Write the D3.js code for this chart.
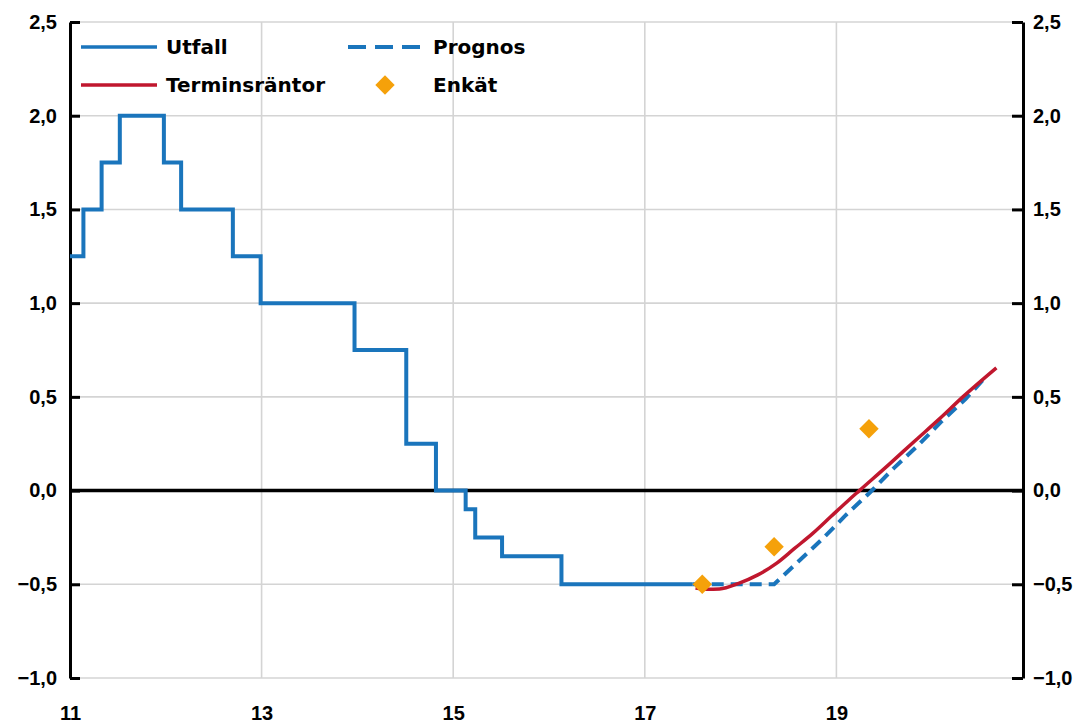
<!DOCTYPE html>
<html>
<head>
<meta charset="utf-8">
<script src="https://cdn.jsdelivr.net/npm/d3@7"></script>
<style>
  body { margin: 0; background: #fff; }
  svg { display: block; font-family: "DejaVu Sans", sans-serif; font-weight: 700; }
  .tick text { font-size: 20px; fill: #000; }
</style>
</head>
<body>
<svg id="chart"></svg>
<script>
// reporänta, utfall (step changes)
const utfallDates  = [2011.0, 2011.14, 2011.33, 2011.52, 2011.98, 2012.16, 2012.70, 2012.99, 2013.97, 2014.51, 2014.82, 2015.13, 2015.23, 2015.51, 2016.13, 2017.50]
const utfallValues = [1.25, 1.50, 1.75, 2.00, 1.75, 1.50, 1.25, 1.00, 0.75, 0.25, 0.00, -0.10, -0.25, -0.35, -0.50, -0.50]

// prognos
const prognosDates  = [2017.50, 2017.75, 2018.00, 2018.35, 2018.60, 2018.85, 2019.10, 2019.35, 2019.60, 2019.85, 2020.10, 2020.35, 2020.53]
const prognosValues = [-0.50, -0.50, -0.50, -0.50, -0.38, -0.26, -0.13, -0.01, 0.12, 0.24, 0.37, 0.49, 0.59]

// terminsräntor
const terminDates  = [2017.53, 2017.65, 2017.78, 2017.98, 2018.18, 2018.37, 2018.56, 2018.75, 2018.94, 2019.13, 2019.24, 2019.55, 2019.83, 2020.07, 2020.32, 2020.67]
const terminValues = [-0.52, -0.527, -0.525, -0.495, -0.45, -0.39, -0.31, -0.23, -0.14, -0.05, 0.00, 0.14, 0.27, 0.38, 0.50, 0.655]

// enkät
const enkatDates  = [2017.60, 2018.35, 2019.34]
const enkatValues = [-0.50, -0.30, 0.33]

const yTicks = [-1.0, -0.5, 0.0, 0.5, 1.0, 1.5, 2.0, 2.5]
const xTicks = [2011, 2013, 2015, 2017, 2019]
const xGrid  = [2013, 2015, 2017, 2019]

const blue = "#1a75bc"
const red = "#c0172e"
const orange = "#f5a10a"

const width = 1082
const height = 725
const plotLeft = 70, plotRight = 1023, plotTop = 22, plotBottom = 678

const svg = d3.select("#chart").attr("width", width).attr("height", height)

const x = d3.scaleLinear().domain([2011, 2021]).range([plotLeft, plotRight + 5])
const y = d3.scaleLinear().domain([-1, 2.5]).range([plotBottom, plotTop])
const fmt = d => d3.format(".1f")(d).replace(".", ",")

// gridlines
svg.append("g").selectAll("line").data(yTicks).join("line")
    .attr("x1", plotLeft).attr("x2", plotRight)
    .attr("y1", d => y(d)).attr("y2", d => y(d))
    .attr("stroke", "#d4d4d4").attr("stroke-width", 1.6)
svg.append("g").selectAll("line").data(xGrid).join("line")
    .attr("x1", d => x(d)).attr("x2", d => x(d))
    .attr("y1", plotTop).attr("y2", plotBottom)
    .attr("stroke", "#d4d4d4").attr("stroke-width", 1.6)

// zero line
svg.append("line")
    .attr("x1", plotLeft).attr("x2", plotRight)
    .attr("y1", y(0)).attr("y2", y(0))
    .attr("stroke", "#000").attr("stroke-width", 3.5)

// axes
const yLeft = svg.append("g").attr("transform", `translate(${plotLeft},0)`)
    .call(d3.axisLeft(y).tickValues(yTicks).tickFormat(fmt).tickSizeInner(-10).tickSizeOuter(0).tickPadding(13))
const yRight = svg.append("g").attr("transform", `translate(${plotRight},0)`)
    .call(d3.axisRight(y).tickValues(yTicks).tickFormat(fmt).tickSizeInner(-11).tickSizeOuter(0).tickPadding(10))
for (const g of [yLeft, yRight]) {
    g.select(".domain").attr("stroke", "#000").attr("stroke-width", 3)
    g.selectAll(".tick line").attr("stroke", "#000").attr("stroke-width", 3)
}

svg.append("g").attr("transform", `translate(0,${plotBottom})`)
    .call(d3.axisBottom(x).tickValues(xTicks).tickFormat(d => String(d % 100)).tickSize(0).tickPadding(28))
    .call(g => g.select(".domain").remove())

// series
const line = d3.line().x(d => x(d[0])).y(d => y(d[1]))

svg.append("path")
    .datum(d3.zip(utfallDates, utfallValues))
    .attr("d", line.curve(d3.curveStepAfter))
    .attr("fill", "none").attr("stroke", blue).attr("stroke-width", 4)

svg.append("path")
    .datum(d3.zip(prognosDates, prognosValues))
    .attr("d", line.curve(d3.curveLinear))
    .attr("fill", "none").attr("stroke", blue).attr("stroke-width", 4)
    .attr("stroke-dasharray", "12,7")

svg.append("path")
    .datum(d3.zip(terminDates, terminValues))
    .attr("d", line.curve(d3.curveMonotoneX))
    .attr("fill", "none").attr("stroke", red).attr("stroke-width", 3.5)

const diamond = d3.symbol().type(d3.symbolDiamond2).size(240)
svg.append("g").selectAll("path")
    .data(d3.zip(enkatDates, enkatValues)).join("path")
    .attr("transform", d => `translate(${x(d[0])},${y(d[1])})`)
    .attr("d", diamond)
    .attr("fill", orange)

// legend
const legend = svg.append("g").style("font-size", "20px")
const items = [
    {label: "Utfall", lx: 81, ty: 47, type: "solid", color: blue},
    {label: "Prognos", lx: 348, ty: 47, type: "dash", color: blue},
    {label: "Terminsräntor", lx: 81, ty: 85, type: "solid", color: red},
    {label: "Enkät", lx: 348, ty: 85, type: "diamond", color: orange}
]
for (const it of items) {
    if (it.type === "diamond") {
        legend.append("path").attr("d", diamond)
            .attr("transform", `translate(${it.lx + 37},${it.ty})`).attr("fill", it.color)
    } else {
        legend.append("line")
            .attr("x1", it.lx).attr("x2", it.lx + 76)
            .attr("y1", it.ty).attr("y2", it.ty)
            .attr("stroke", it.color).attr("stroke-width", it.type === "dash" ? 4 : 3.5)
            .attr("stroke-dasharray", it.type === "dash" ? "18,9" : null)
    }
    legend.append("text")
        .attr("x", it.lx + 85).attr("y", it.ty)
        .attr("dominant-baseline", "central")
        .text(it.label)
}
</script>
</body>
</html>
